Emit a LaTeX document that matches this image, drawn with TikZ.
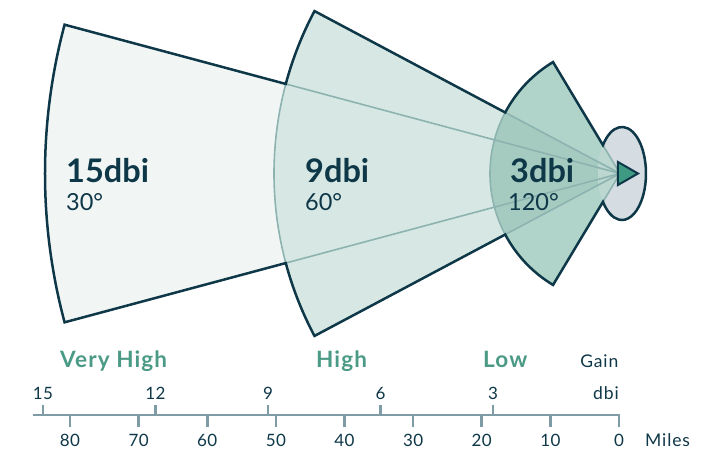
\documentclass[tikz,border=0pt]{standalone}
\usepackage{fontspec}
\setmainfont{Lato}
\definecolor{navy}{HTML}{0E3748}
\definecolor{fA}{HTML}{F1F6F5}
\definecolor{fB}{HTML}{D7E8E4}
\definecolor{fC}{HTML}{B0D4CA}
\definecolor{fCb}{HTML}{A5CBC1}
\definecolor{ellc}{HTML}{D5DDE3}
\definecolor{wedgec}{HTML}{BCD6D0}
\definecolor{litec}{HTML}{8DB3B1}
\definecolor{axisc}{HTML}{7E9BA6}
\definecolor{greentxt}{HTML}{4B9A85}
\definecolor{arrowc}{HTML}{3F9A84}
\tikzset{
  lite/.style={draw=litec, line width=1.6pt},
  dark/.style={draw=navy, line width=2.5pt, line join=miter},
  axisline/.style={draw=axisc, line width=2.6pt},
  bigtxt/.style={text=navy, inner sep=0pt, anchor=base west, font=\fontsize{32.5}{36}\selectfont\bfseries},
  degtxt/.style={text=navy, inner sep=0pt, anchor=base west, font=\fontsize{23.5}{26}\selectfont},
  ticklab/.style={text=navy, inner sep=0pt, anchor=base, font=\fontsize{17}{19}\selectfont\addfontfeature{LetterSpace=3}},
  wordlab/.style={text=navy, inner sep=0pt, font=\fontsize{17.5}{19}\selectfont\addfontfeature{LetterSpace=5}},
  gaintxt/.style={text=greentxt, inner sep=0pt, anchor=base west, font=\fontsize{22.5}{26}\selectfont\bfseries\addfontfeature{LetterSpace=5}},
}
\begin{document}
\begin{tikzpicture}[x=1pt,y=1pt]
\useasboundingbox (-620,-287.5) rectangle (98,173.5);
% fills
\fill[fA] (0,0) -- (165:575) arc[start angle=165,end angle=195,radius=575pt] -- cycle;
\fill[fB] (0,0) -- (152:346) arc[start angle=152,end angle=208,radius=346pt] -- cycle;
\fill[fC] (0,0) -- (121:130) arc[start angle=121,end angle=239,radius=130pt] -- cycle;
\fill[fCb] (0,0) -- (152:130) arc[start angle=152,end angle=208,radius=130pt] -- cycle;
\fill[ellc] (2,0) ellipse[x radius=24pt,y radius=46.5pt];
\begin{scope}
\clip (2,0) ellipse[x radius=24pt,y radius=46.5pt];
\fill[wedgec] (0,0) -- (121:130) arc[start angle=121,end angle=239,radius=130pt] -- cycle;
\end{scope}
% inner light lines
\draw[lite] (165:346) -- (0,0) -- (195:346);
\draw[lite] (152:130) -- (0,0) -- (208:130);
\draw[lite] (165:346) arc[start angle=165,end angle=195,radius=346pt];
\draw[lite] (152:130) arc[start angle=152,end angle=208,radius=130pt];
\draw[lite] (121:33.07) -- (0,0) -- (239:33.07);
% silhouette outline
\draw[dark] (195:575) arc[start angle=195,end angle=165,radius=575pt]
  -- (165:346) arc[start angle=165,end angle=152,radius=346pt]
  -- (152:130) arc[start angle=152,end angle=121,radius=130pt]
  -- (121:33.07) arc[start angle=142.45,end angle=-142.45,x radius=24pt,y radius=46.5pt]
  -- (239:130) arc[start angle=239,end angle=208,radius=130pt]
  -- (208:346) arc[start angle=208,end angle=195,radius=346pt]
  -- cycle;
% antenna arrow
\draw[fill=arrowc, draw=navy, line width=2pt, line join=miter] (-2,11.5) -- (18,0) -- (-2,-11.5) -- cycle;
% labels in sectors
\node[bigtxt] (t15) at (-554,-8.5) {15dbi};
\node[degtxt] (d15) at (-554,-36.5) {30°};
\node[bigtxt] (t9) at (-315,-8.5) {9dbi};
\node[degtxt] (d9) at (-315,-36.5) {60°};
\node[bigtxt] (t3) at (-110,-8.5) {3dbi};
\node[degtxt] (d3) at (-112,-36.5) {120°};
% gain words
\node[gaintxt] (vh) at (-560,-193.5) {Very High};
\node[gaintxt] (hi) at (-304,-193.5) {High};
\node[gaintxt] (lo) at (-137,-193.5) {Low};
\node[wordlab, anchor=base east] (gain) at (-1.5,-193.5) {Gain};
\node[wordlab, anchor=base east] (dbi) at (-1,-225.5) {dbi};
\node[wordlab, anchor=base west] (miles) at (25,-272.5) {Miles};
% axis
\draw[axisline, line join=miter] (-587,-241.5) -- (-1,-241.5) -- (-1,-253.5);
\foreach \v/\x in {15/-577,12/-464.5,9/-352,6/-239.5,3/-127}{
  \draw[axisline] (\x,-241.5) -- (\x,-231.5);
  \node[ticklab] (g\v) at (\x,-225.5) {\v};
}
\foreach \m in {0,10,...,80}{
  \pgfmathsetmacro{\xx}{-1-6.8625*\m}
  \draw[axisline] (\xx,-241.5) -- (\xx,-253.5);
  \node[ticklab] (m\m) at (\xx,-272.5) {\m};
}
\end{tikzpicture}
\end{document}
